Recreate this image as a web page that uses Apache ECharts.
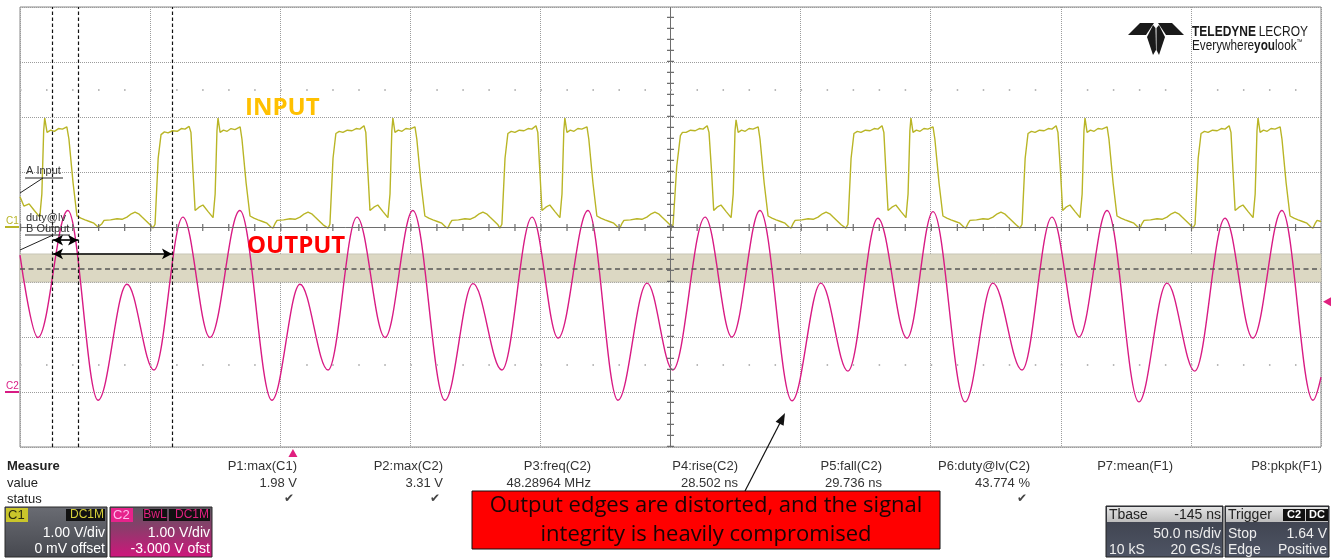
<!DOCTYPE html>
<html><head><meta charset="utf-8">
<script src="https://cdn.jsdelivr.net/npm/echarts@6/dist/echarts.min.js"></script>
<style>html,body{margin:0;padding:0;background:#fff}#c{width:1333px;height:560px}</style>
</head><body><div id="c"></div>
<script>
// ---------------- DATA ----------------
// Time axis: 50 ns/div, 10 divisions
const TIME_MIN_NS = 0, TIME_MAX_NS = 500, TIME_DIV_NS = 50;
// Vertical: 8 divisions, 1 V/div for both channels
const DIV_MIN = -4, DIV_MAX = 4, VOLTS_PER_DIV = 1.0;
const C1_OFFSET_V = 0.0;      // "0 mV offset"
const C2_OFFSET_V = -3.0;     // "-3.000 V ofst"

// C1 (INPUT) trace, [time ns, volts]
const C1_INPUT_V = [
 [0,0.55],[1.5,0.38],[3.5,0.42],[5.5,0.30],[7.6,0.18],[8.4,0.6],[9.1,1.75],[9.5,1.98],[10.4,1.72],[11.8,1.76],[13.2,1.74],[14.8,1.79],[16.3,1.78],[18.0,1.82],[18.8,1.6],[20.4,0.8],[21.9,0.20],[23.4,0.16],[25.0,0.13],[26.7,0.10],[28.4,0.07],[30.0,0.0],[30.7,-0.02],[31.5,0.06],[32.3,0.12],[34.8,0.13],[37.3,0.15],[39.2,0.14],[41.1,0.18],[42.8,0.24],[44.2,0.27],[45.6,0.24],[46.9,0.18],[48.5,0.11],[50.0,0.04],[51.1,-0.02],
 [51.9,0.05],[53.1,1.25],[54.2,1.68],[55.5,1.73],[56.9,1.71],[58.6,1.75],[60.4,1.74],[62.0,1.79],[63.4,1.78],[65.0,1.83],[65.7,1.72],[66.5,1.0],[67.3,0.30],[68.8,0.36],[70.3,0.40],[72.3,0.28],[74.2,0.17],[75.0,0.6],[75.7,1.75],[76.1,1.98],[76.9,1.72],[78.2,1.76],[79.6,1.74],[81.1,1.79],[82.6,1.77],[84.6,1.82],[85.3,1.6],[86.9,0.8],[88.4,0.20],[89.9,0.16],[91.5,0.13],[93.2,0.10],[94.9,0.07],[96.4,0.0],[97.2,-0.02],[98.0,0.06],[98.8,0.12],[101.3,0.13],[103.8,0.15],[105.7,0.14],[107.6,0.18],[109.3,0.24],[110.7,0.27],[112.1,0.24],[113.4,0.18],[115.0,0.11],[116.5,0.04],[118.4,-0.02],
 [119.1,0.05],[120.3,1.25],[121.4,1.70],[122.7,1.74],[124.1,1.72],[125.8,1.76],[127.6,1.75],[129.2,1.79],[130.6,1.78],[132.2,1.84],[132.9,1.72],[133.7,1.0],[134.5,0.30],[136.0,0.36],[137.5,0.40],[139.5,0.28],[141.4,0.17],[142.2,0.6],[142.9,1.75],[143.3,1.98],[144.1,1.72],[145.4,1.76],[146.8,1.74],[148.3,1.79],[149.8,1.78],[151.8,1.82],[152.5,1.6],[154.1,0.8],[155.6,0.20],[157.1,0.16],[158.7,0.13],[160.4,0.10],[162.1,0.07],[163.6,0.0],[164.4,-0.02],[165.2,0.06],[166.0,0.12],[168.5,0.13],[171.0,0.15],[172.9,0.14],[174.8,0.18],[176.5,0.24],[177.9,0.27],[179.3,0.24],[180.6,0.18],[182.2,0.11],[183.7,0.04],[184.4,-0.02],
 [185.2,0.05],[186.4,1.25],[187.5,1.70],[188.8,1.74],[190.2,1.72],[191.9,1.76],[193.7,1.75],[195.3,1.79],[196.7,1.78],[198.3,1.84],[199.0,1.72],[199.8,1.0],[200.6,0.30],[202.1,0.36],[203.6,0.40],[205.6,0.28],[207.5,0.17],[208.3,0.6],[209.0,1.75],[209.4,1.98],[210.2,1.72],[211.5,1.76],[212.9,1.74],[214.4,1.79],[215.9,1.78],[217.9,1.82],[218.6,1.6],[220.2,0.8],[221.7,0.20],[223.2,0.16],[224.8,0.13],[226.5,0.10],[228.2,0.07],[229.7,0.0],[230.5,-0.02],[231.3,0.06],[232.1,0.12],[234.6,0.13],[237.1,0.15],[239.0,0.14],[240.9,0.18],[242.6,0.24],[244.0,0.27],[245.4,0.24],[246.7,0.18],[248.3,0.11],[249.8,0.04],[250.3,-0.02],
 [251.0,0.05],[252.4,1.10],[253.8,1.66],[254.6,1.72],[256.0,1.72],[257.7,1.76],[259.5,1.75],[261.1,1.79],[262.5,1.78],[264.1,1.84],[264.8,1.72],[265.8,1.0],[266.6,0.30],[267.9,0.36],[269.4,0.40],[271.4,0.28],[273.3,0.17],[274.1,0.6],[274.8,1.75],[275.2,1.95],[276.0,1.72],[277.3,1.76],[278.7,1.74],[280.2,1.79],[281.7,1.78],[283.7,1.82],[284.4,1.6],[286.0,0.8],[287.5,0.20],[289.0,0.16],[290.6,0.13],[292.3,0.10],[294.0,0.07],[295.5,0.0],[296.3,-0.02],[297.1,0.06],[297.9,0.12],[300.4,0.13],[302.9,0.15],[304.8,0.14],[306.7,0.18],[308.4,0.24],[309.8,0.27],[311.2,0.24],[312.5,0.18],[314.1,0.11],[315.6,0.04],[317.4,-0.02],
 [318.2,0.05],[319.4,1.25],[320.5,1.70],[321.8,1.74],[323.2,1.72],[324.9,1.76],[326.7,1.75],[328.3,1.79],[329.7,1.78],[331.3,1.84],[332.0,1.72],[332.8,1.0],[333.6,0.30],[335.1,0.36],[336.6,0.40],[338.6,0.28],[340.5,0.17],[341.3,0.6],[342.0,1.75],[342.4,1.98],[343.2,1.72],[344.5,1.76],[345.9,1.74],[347.4,1.79],[348.9,1.78],[350.9,1.82],[351.6,1.6],[353.2,0.8],[354.7,0.20],[356.2,0.16],[357.8,0.13],[359.5,0.10],[361.2,0.07],[362.7,0.0],[363.5,-0.02],[364.3,0.06],[365.1,0.12],[367.6,0.13],[370.1,0.15],[372.0,0.14],[373.9,0.18],[375.6,0.24],[377.0,0.27],[378.4,0.24],[379.7,0.18],[381.3,0.11],[382.8,0.04],[384.3,-0.02],
 [385.1,0.05],[386.3,1.25],[387.4,1.70],[388.7,1.74],[390.1,1.72],[391.8,1.76],[393.6,1.75],[395.2,1.79],[396.6,1.78],[398.2,1.84],[398.9,1.72],[399.9,1.0],[400.7,0.30],[402.0,0.36],[403.5,0.40],[405.5,0.28],[407.4,0.17],[408.2,0.6],[408.9,1.75],[409.3,1.98],[410.1,1.72],[411.4,1.76],[412.8,1.74],[414.3,1.79],[415.8,1.78],[417.8,1.82],[418.5,1.6],[420.1,0.8],[421.6,0.20],[423.1,0.16],[424.7,0.13],[426.4,0.10],[428.1,0.07],[429.6,0.0],[430.4,-0.02],[431.2,0.06],[432.0,0.12],[434.5,0.13],[437.0,0.15],[438.9,0.14],[440.8,0.18],[442.5,0.24],[443.9,0.27],[445.3,0.24],[446.6,0.18],[448.2,0.11],[449.7,0.04],[450.8,-0.02],
 [451.6,0.05],[452.8,1.25],[453.9,1.70],[455.2,1.74],[456.6,1.72],[458.3,1.76],[460.1,1.75],[461.7,1.79],[463.1,1.78],[464.7,1.84],[465.4,1.72],[466.2,1.0],[467.0,0.30],[468.5,0.36],[470.0,0.40],[472.0,0.28],[473.9,0.17],[474.7,0.6],[475.4,1.75],[475.8,1.98],[476.6,1.72],[477.9,1.76],[479.3,1.74],[480.8,1.79],[482.3,1.78],[484.3,1.82],[485.0,1.6],[486.6,0.8],[488.1,0.20],[489.6,0.16],[491.2,0.13],[492.9,0.10],[494.6,0.07],[496.1,0.0],[496.9,-0.02],[497.7,0.06],[498.5,0.12],[500,0.10]
];

// C2 (OUTPUT) trace extrema, [time ns, volts]
const C2_OUTPUT_V = [
 [0,2.49],[6.9,0.99],[18.4,3.30],[30.0,-0.15],[41.1,1.96],[51.5,0.40],[62.6,3.18],[73.0,0.99],[84.5,3.30],[96.8,-0.15],[107.6,1.96],[118.4,0.40],
 [129.5,3.18],[140.3,0.99],[151.0,3.30],[163.3,-0.15],[174.1,1.97],[185.2,0.40],[196.8,3.18],[206.8,0.98],[218.3,3.30],[229.8,-0.15],[241.0,1.98],[250.9,0.40],
 [263.3,3.18],[273.6,1.0],[284.4,3.30],[296.7,-0.16],[307.8,1.98],[318.2,0.38],[329.7,3.16],[340.9,0.98],[350.9,3.28],[363.2,-0.18],[373.9,1.98],[385.1,0.40],
 [396.6,3.18],[407.0,1.0],[417.8,3.30],[430.0,-0.18],[440.8,1.98],[451.5,0.38],[463.1,3.16],[473.8,0.98],[485.0,3.30],[496.9,-0.15],[500,0.27]
];

// Measurement levels / cursors
const LEVEL_BAND_C2_V = [2.0, 2.51];
const LEVEL_C2_V = 2.25;
const CURSOR_T_NS = [12.3, 22.3, 58.4];
const DUTY_ARROWS = [[12.7, 22.3, 2.76], [12.7, 58.4, 2.51]]; // [from ns, to ns, C2 volts]
const TRIG_LEVEL_C2_V = 1.64;
const TRIG_TIME_NS = 104.9;

// Measurement table
const MEAS_NAMES = ['P1:max(C1)','P2:max(C2)','P3:freq(C2)','P4:rise(C2)','P5:fall(C2)','P6:duty@lv(C2)','P7:mean(F1)','P8:pkpk(F1)'];
const MEAS_VALUES = ['1.98 V','3.31 V','48.28964 MHz','28.502 ns','29.736 ns','43.774 %','',''];
const MEAS_OK = [true,true,false,false,false,true,false,false];

// ---------------- CHART ----------------
const toDiv = (off) => ([t, v]) => [t, (v + off) / VOLTS_PER_DIV];
const c2d = (v) => (v + C2_OFFSET_V) / VOLTS_PER_DIV;
const chart = echarts.init(document.getElementById('c'));
const YEL = '#b9b526', PINK = '#d81b84';
const F = "'Liberation Sans', Arial, sans-serif";

const axisCommon = {
  axisLabel:{show:false}, axisTick:{show:false}, axisLine:{show:false},
  splitLine:{show:true, lineStyle:{color:'#9c9c9c', type:'dotted', width:1}}
};

const markLines = [
  {yAxis:0, lineStyle:{type:'solid', color:'#6e6e6e', width:1}},
  {xAxis:(TIME_MIN_NS+TIME_MAX_NS)/2, lineStyle:{type:'solid', color:'#6e6e6e', width:1}},
  {yAxis:0, lineStyle:{type:[1.2,24.82], color:'#6e6e6e', width:7}},
  {xAxis:(TIME_MIN_NS+TIME_MAX_NS)/2, lineStyle:{type:[1.2,9.8], color:'#6e6e6e', width:7}},
  {yAxis:2.5, lineStyle:{type:[1.5,24.52], color:'#b8b8b8', width:2}},
  {yAxis:-2.5, lineStyle:{type:[1.5,24.52], color:'#b8b8b8', width:2}},
  {yAxis:c2d(LEVEL_C2_V), lineStyle:{type:[5,3.5], color:'#555', width:1.6}}
].concat(CURSOR_T_NS.map(t => ({xAxis:t, lineStyle:{type:[3.5,2.5], color:'#111', width:1.2}})));

const arrowLines = DUTY_ARROWS.map(([a,b,v]) => [{coord:[a, c2d(v)]},{coord:[b, c2d(v)]}]);

const option = {
  animation:false,
  grid:{left:20, top:7, right:12, bottom:113, show:true, borderColor:'#8a8a8a', borderWidth:1, backgroundColor:'#fff'},
  xAxis:Object.assign({type:'value', min:TIME_MIN_NS, max:TIME_MAX_NS, interval:TIME_DIV_NS}, axisCommon),
  yAxis:Object.assign({type:'value', min:DIV_MIN, max:DIV_MAX, interval:1}, axisCommon),
  series:[
    { name:'levels', type:'line', data:[], silent:true, z:1,
      markArea:{silent:true, itemStyle:{color:'#dcd8c3', borderColor:'#c2bfae', borderWidth:0.8},
        data:[[{yAxis:c2d(LEVEL_BAND_C2_V[1])},{yAxis:c2d(LEVEL_BAND_C2_V[0])}]]},
      markLine:{silent:true, symbol:['none','none'], label:{show:false}, data:markLines}
    },
    { name:'C1', type:'line', data:C1_INPUT_V.map(toDiv(C1_OFFSET_V)), showSymbol:false, symbol:'none',
      lineStyle:{color:YEL, width:1.4}, z:3 },
    { name:'C2', type:'line', data:C2_OUTPUT_V.map(toDiv(C2_OFFSET_V)), showSymbol:false, symbol:'none',
      smooth:0.36, smoothMonotone:'x', lineStyle:{color:PINK, width:1.4}, z:4,
      markLine:{silent:true, symbol:['arrow','arrow'], symbolSize:[8,10], label:{show:false},
        lineStyle:{color:'#000', width:1.6, type:'solid'}, data:arrowLines},
      markPoint:{silent:true, label:{show:false}, data:[
        {coord:[TIME_MAX_NS, c2d(TRIG_LEVEL_C2_V)], symbol:'triangle', symbolRotate:90, symbolSize:[9,8], symbolOffset:[6,0], itemStyle:{color:'#e0207f'}},
        {coord:[TRIG_TIME_NS, DIV_MIN], symbol:'triangle', symbolSize:[9,8], symbolOffset:[0,6], itemStyle:{color:'#e0207f'}}
      ]}
    }
  ]
};
chart.setOption(option);

// ---------------- DECOR (text, boxes, logo) ----------------
const g = [];
const txt = (x,y,text,opt) => g.push({type:'text', z:50, style:Object.assign({x, y, text, fill:'#222', font:'13px '+F, textAlign:'left', textVerticalAlign:'middle'}, opt||{})});
const rect = (x,y,w,h,fill,opt) => g.push({type:'rect', z:40, shape:{x,y,width:w,height:h}, style:Object.assign({fill}, opt||{})});
const line = (x1,y1,x2,y2,stroke,w) => g.push({type:'line', z:45, shape:{x1,y1,x2,y2}, style:{stroke, lineWidth:w||1}});
const poly = (pts,fill) => g.push({type:'polygon', z:45, shape:{points:pts}, style:{fill}});

// channel ground markers
const p1 = chart.convertToPixel({gridIndex:0}, [TIME_MIN_NS, C1_OFFSET_V/VOLTS_PER_DIV]);
const p2 = chart.convertToPixel({gridIndex:0}, [TIME_MIN_NS, c2d(0)]);
txt(6, p1[1]-6, 'C1', {fill:YEL, font:'10px '+F});
line(5, p1[1], 19, p1[1], YEL, 2);
txt(6, p2[1]-6, 'C2', {fill:PINK, font:'10px '+F});
line(5, p2[1], 19, p2[1], PINK, 2);

// trace labels
txt(245, 108, 'INPUT', {fill:'#ffc000', font:"bold 24px 'Open Sans', sans-serif"});
txt(247, 246, 'OUTPUT', {fill:'#ff0000', font:"bold 24px 'Open Sans', sans-serif"});

// cursor annotations
txt(26, 171, 'A Input', {fill:'#333', font:'11px '+F});
line(25, 178, 63, 178, '#222', 1); line(20, 193, 43, 178, '#222', 1);
txt(26, 218, 'duty@lv', {fill:'#333', font:'11px '+F});
txt(26, 229, 'B Output', {fill:'#333', font:'11px '+F});
line(25, 235, 70, 235, '#222', 1); line(20, 250, 53, 235, '#222', 1);

// logo
poly([[1128,35],[1140,23],[1154,23],[1146,35]], '#1a1a1a');
poly([[1184,35],[1172,23],[1158,23],[1166,35]], '#1a1a1a');
poly([[1153,25],[1147,37],[1153,55],[1156,50],[1155.5,28]], '#1a1a1a');
poly([[1159,25],[1165,37],[1159,55],[1156.5,50],[1156.5,28]], '#1a1a1a');
g.push({type:'text', z:50, x:1192, y:32, scaleX:0.8, style:{x:0, y:0, textVerticalAlign:'middle', fill:'#1a1a1a',
  text:'{b|TELEDYNE} {r|LECROY}', rich:{b:{font:"bold 15px "+F, fill:'#1a1a1a'}, r:{font:"15px "+F, fill:'#1a1a1a'}}}});
g.push({type:'text', z:50, x:1192, y:46, scaleX:0.84, style:{x:0, y:0, textVerticalAlign:'middle', fill:'#1a1a1a',
  text:'{r|Everywhere}{b|you}{r|look}{s|™}', rich:{b:{font:"bold 14px "+F, fill:'#1a1a1a'}, r:{font:"14px "+F, fill:'#1a1a1a'}, s:{font:"7px "+F, fill:'#1a1a1a', verticalAlign:'top'}}}});

// measurement table
const COL_RIGHT = [297,443,591,738,882,1030,1173,1322];
txt(7, 466, 'Measure', {font:'bold 13px '+F});
txt(7, 483, 'value');
txt(7, 499, 'status');
MEAS_NAMES.forEach((n,i) => {
  txt(COL_RIGHT[i], 466, n, {textAlign:'right', fill:'#333'});
  if (MEAS_VALUES[i]) txt(COL_RIGHT[i], 483, MEAS_VALUES[i], {textAlign:'right', fill:'#333'});
  if (MEAS_OK[i]) txt(COL_RIGHT[i]-3, 499, '✔', {textAlign:'right', fill:'#444', font:"12px 'DejaVu Sans'"});
});

// channel boxes
const grad = (a,b) => new echarts.graphic.LinearGradient(0,0,0,1,[{offset:0,color:a},{offset:1,color:b}]);
rect(5, 507, 102, 50, grad('#6a6c73','#46484f'), {stroke:'#2a2a2a', lineWidth:1});
rect(6, 508, 22, 14, '#c9c52b');
txt(8, 515, 'C1', {fill:'#2a2a10', font:'13px '+F});
rect(66, 509, 39, 12, '#111');
txt(104, 515, 'DC1M', {fill:'#d5cf3a', font:'12px '+F, textAlign:'right'});
txt(105, 533, '1.00 V/div', {fill:'#fff', textAlign:'right', font:'14px '+F});
txt(105, 549, '0 mV offset', {fill:'#fff', textAlign:'right', font:'14px '+F});

rect(110, 507, 102, 50, grad('#5a585f','#d0157c'), {stroke:'#2a2a2a', lineWidth:1});
rect(111, 508, 22, 14, '#e6238b');
txt(113, 515, 'C2', {fill:'#fbe', font:'13px '+F});
rect(143, 509, 24, 12, '#111');
txt(155, 515, 'BwL', {fill:'#e0207f', font:'12px '+F, textAlign:'center'});
rect(169, 509, 41, 12, '#111');
txt(209, 515, 'DC1M', {fill:'#e0207f', font:'12px '+F, textAlign:'right'});
txt(210, 533, '1.00 V/div', {fill:'#fff', textAlign:'right', font:'14px '+F});
txt(210, 549, '-3.000 V ofst', {fill:'#fff', textAlign:'right', font:'14px '+F});

// timebase / trigger boxes
rect(1106, 506, 117, 51, grad('#3b3f4a','#4e5464'), {stroke:'#222', lineWidth:1});
rect(1107, 507, 115, 15, grad('#e4e4e4','#bdbdbd'));
txt(1109, 515, 'Tbase', {fill:'#222', font:'14px '+F});
txt(1221, 515, '-145 ns', {fill:'#222', font:'14px '+F, textAlign:'right'});
txt(1221, 534, '50.0 ns/div', {fill:'#eee', font:'14px '+F, textAlign:'right'});
txt(1109, 550, '10 kS', {fill:'#eee', font:'14px '+F});
txt(1221, 550, '20 GS/s', {fill:'#eee', font:'14px '+F, textAlign:'right'});

rect(1225, 506, 104, 51, grad('#3b3f4a','#4e5464'), {stroke:'#222', lineWidth:1});
rect(1226, 507, 102, 15, grad('#e4e4e4','#bdbdbd'));
txt(1228, 515, 'Trigger', {fill:'#222', font:'14px '+F});
rect(1283, 509, 22, 12, '#111'); txt(1294, 515, 'C2', {fill:'#fff', font:'bold 11px '+F, textAlign:'center'});
rect(1306, 509, 22, 12, '#111'); txt(1317, 515, 'DC', {fill:'#fff', font:'bold 11px '+F, textAlign:'center'});
txt(1228, 534, 'Stop', {fill:'#eee', font:'14px '+F});
txt(1327, 534, '1.64 V', {fill:'#eee', font:'14px '+F, textAlign:'right'});
txt(1228, 550, 'Edge', {fill:'#eee', font:'14px '+F});
txt(1327, 550, 'Positive', {fill:'#eee', font:'14px '+F, textAlign:'right'});

// callout
line(745, 491, 781, 421, '#111', 1.2);
poly([[785,413],[783.6,425.7],[775.6,421.7]], '#111');
rect(472, 491, 468, 58, '#ff0000', {stroke:'#111', lineWidth:1});
txt(706, 506, 'Output edges are distorted, and the signal', {fill:'#1a0505', font:"22px 'Open Sans', sans-serif", textAlign:'center'});
txt(706, 535, 'integrity is heavily compromised', {fill:'#1a0505', font:"22px 'Open Sans', sans-serif", textAlign:'center'});

chart.setOption({graphic:{elements:g}});
</script></body></html>
